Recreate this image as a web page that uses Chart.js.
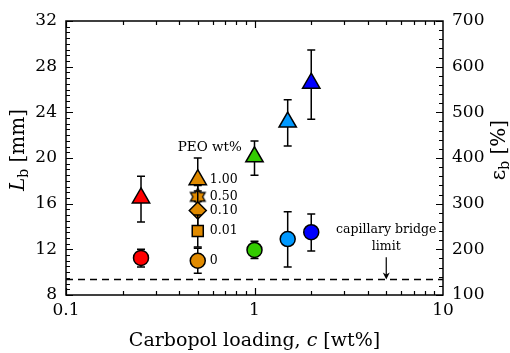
<!DOCTYPE html>
<html>
<head>
<meta charset="utf-8">
<script src="https://cdn.jsdelivr.net/npm/chart.js@4"></script>
<style>
    html, body { margin: 0; padding: 0; background: #fff; }
    #wrap { width: 510px; height: 353px; }
</style>
</head>
<body>
<div id="wrap"><canvas id="chart"></canvas></div>
<script>
// --- data ---
const carbopol = [0.25, 0.5, 1, 1.5, 2];              // wt%
const pointColors = ["#ff0000", "#e08a00", "#33cc00", "#0099ff", "#0000ff"];

// circles: no PEO
const lbCircle = [11.25, 11.0, 11.95, 12.9, 13.5];
const lbCircleLow = [10.45, 9.9, 11.2, 10.45, 11.85];
const lbCircleHigh = [12.0, 12.1, 12.7, 15.3, 15.1];

// triangles: 1.00 wt% PEO
const lbTri = [16.5, 18.1, 20.1, 23.15, 26.55];
const lbTriLow = [14.4, 16.2, 18.5, 21.05, 23.4];
const lbTriHigh = [18.4, 20.0, 21.5, 25.1, 29.45];

// PEO series at c = 0.5 wt%
const peoCarbopol = 0.5;
const peoLabels = ["0", "0.01", "0.10", "0.50", "1.00"];
const peoLb = [11.0, 13.6, 15.4, 16.6, 18.1];
const peoLow = [9.9, 12.2, 13.7, 15.6, 16.2];
const peoHigh = [12.1, 15.0, 17.1, 17.6, 20.0];
const peoHeaderLb = 20.9;

// capillary bridge limit
const bridgeLimit = 9.35;
const bridgeArrowC = 5;

// axes
const xMajorTicks = [0.1, 1, 10];
const yMin = 8, yMax = 32, yStep = 4;
const y2Min = 100, y2Max = 700, y2Step = 100;

const FONT = "'DejaVu Serif', serif";

// hexagram marker as a small canvas
function makeHexagram(R, fill) {
    const size = Math.ceil(R * 2 + 4);
    const cv = document.createElement("canvas");
    cv.width = cv.height = size;
    const g = cv.getContext("2d");
    const c = size / 2;
    g.beginPath();
    for (let i = 0; i < 12; i++) {
        const r = i % 2 === 0 ? R : R / Math.sqrt(3);
        const a = -Math.PI / 2 + i * Math.PI / 6;
        const px = c + r * Math.cos(a), py = c + r * Math.sin(a);
        if (i === 0) g.moveTo(px, py); else g.lineTo(px, py);
    }
    g.closePath();
    g.fillStyle = fill;
    g.fill();
    g.lineWidth = 1.3;
    g.strokeStyle = "#000";
    g.stroke();
    return cv;
}

// draw a run of text pieces (font / baseline shift) centered at 0,0
function drawRuns(ctx, runs) {
    let total = 0;
    runs.forEach(r => { ctx.font = r.font; r.w = ctx.measureText(r.text).width; total += r.w; });
    let x = -total / 2;
    runs.forEach(r => {
        ctx.font = r.font;
        ctx.fillText(r.text, x, r.dy || 0);
        x += r.w;
    });
}

const extras = {
    id: "extras",
    beforeDatasetsDraw(chart) {
        const { ctx, chartArea: a, scales: { y } } = chart;
        const yy = y.getPixelForValue(bridgeLimit);
        ctx.save();
        ctx.strokeStyle = "#000";
        ctx.lineWidth = 1.5;
        ctx.setLineDash([7, 5]);
        ctx.beginPath();
        ctx.moveTo(a.left, yy);
        ctx.lineTo(a.right, yy);
        ctx.stroke();
        ctx.restore();
    },
    beforeDatasetDraw(chart, args) {
        const ds = chart.data.datasets[args.index];
        if (!ds.errLow) return;
        const { ctx, scales: { x, y } } = chart;
        ctx.save();
        ctx.strokeStyle = "#000";
        ctx.lineWidth = 1.5;
        ds.data.forEach((p, i) => {
            const px = x.getPixelForValue(p.x);
            const lo = y.getPixelForValue(ds.errLow[i]);
            const hi = y.getPixelForValue(ds.errHigh[i]);
            ctx.beginPath();
            ctx.moveTo(px, lo); ctx.lineTo(px, hi);
            ctx.moveTo(px - 4, lo); ctx.lineTo(px + 4, lo);
            ctx.moveTo(px - 4, hi); ctx.lineTo(px + 4, hi);
            ctx.stroke();
        });
        ctx.restore();
    },
    afterDraw(chart) {
        const { ctx, chartArea: a, scales: { x, y, y2 } } = chart;
        ctx.save();
        ctx.strokeStyle = "#000";
        ctx.fillStyle = "#000";
        ctx.lineWidth = 1.5;
        ctx.strokeRect(a.left, a.top, a.right - a.left, a.bottom - a.top);

        // inward ticks
        ctx.lineWidth = 1.2;
        ctx.beginPath();
        for (let v = yMin; v <= yMax + 1e-9; v += 0.5) {
            const py = Math.round(y.getPixelForValue(v)) + 0.5;
            const len = (v % yStep === 0) ? 7 : 4;
            ctx.moveTo(a.left, py); ctx.lineTo(a.left + len, py);
        }
        for (let v = y2Min; v <= y2Max + 1e-9; v += 20) {
            const py = Math.round(y2.getPixelForValue(v)) + 0.5;
            const len = (v % y2Step === 0) ? 7 : 4;
            ctx.moveTo(a.right, py); ctx.lineTo(a.right - len, py);
        }
        [0.1, 1].forEach(dec => {
            for (let k = 1; k <= 9; k++) {
                const px = Math.round(x.getPixelForValue(k * dec)) + 0.5;
                const len = k === 1 ? 7 : 4;
                ctx.moveTo(px, a.bottom); ctx.lineTo(px, a.bottom - len);
                ctx.moveTo(px, a.top); ctx.lineTo(px, a.top + len);
            }
        });
        ctx.stroke();

        // axis titles
        ctx.textBaseline = "alphabetic";
        ctx.textAlign = "left";
        ctx.save();
        ctx.translate((a.left + a.right) / 2, 346);
        drawRuns(ctx, [
            { text: "Carbopol loading, ", font: "19px " + FONT },
            { text: "c", font: "italic 19px " + FONT },
            { text: " [wt%]", font: "19px " + FONT }
        ]);
        ctx.restore();

        ctx.save();
        ctx.translate(24, 150);
        ctx.rotate(-Math.PI / 2);
        drawRuns(ctx, [
            { text: "L", font: "italic 20px " + FONT },
            { text: "b", font: "14px " + FONT, dy: 4 },
            { text: " [mm]", font: "20px " + FONT }
        ]);
        ctx.restore();

        ctx.save();
        ctx.translate(505, 150);
        ctx.rotate(-Math.PI / 2);
        drawRuns(ctx, [
            { text: "\u03b5", font: "20px " + FONT },
            { text: "b", font: "14px " + FONT, dy: 4 },
            { text: " [%]", font: "20px " + FONT }
        ]);
        ctx.restore();

        // PEO labels
        const peoX = x.getPixelForValue(peoCarbopol);
        ctx.textBaseline = "middle";
        ctx.font = "12.5px " + FONT;
        peoLabels.forEach((t, i) => {
            ctx.fillText(t, peoX + 12, y.getPixelForValue(peoLb[i]));
        });
        ctx.textAlign = "center";
        ctx.font = "13.5px " + FONT;
        ctx.fillText("PEO wt%", peoX + 12, y.getPixelForValue(peoHeaderLb));

        // capillary bridge annotation
        const ax = x.getPixelForValue(bridgeArrowC);
        ctx.font = "12.5px " + FONT;
        ctx.fillText("capillary bridge", ax, y.getPixelForValue(13.7));
        ctx.fillText("limit", ax, y.getPixelForValue(12.2));
        const yTop = y.getPixelForValue(11.3), yTip = y.getPixelForValue(bridgeLimit);
        ctx.lineWidth = 1.2;
        ctx.beginPath();
        ctx.moveTo(ax, yTop); ctx.lineTo(ax, yTip - 3);
        ctx.stroke();
        ctx.beginPath();
        ctx.moveTo(ax, yTip);
        ctx.lineTo(ax - 3.5, yTip - 7);
        ctx.lineTo(ax, yTip - 5);
        ctx.lineTo(ax + 3.5, yTip - 7);
        ctx.closePath();
        ctx.fill();
        ctx.restore();
    }
};

const pts = (xs, ys) => xs.map((c, i) => ({ x: c, y: ys[i] }));
const orange = pointColors[1];

new Chart(document.getElementById("chart"), {
    type: "scatter",
    data: {
        datasets: [
            {
                label: "no PEO",
                data: pts(carbopol, lbCircle),
                errLow: lbCircleLow, errHigh: lbCircleHigh,
                pointStyle: "circle", pointRadius: 7.5,
                backgroundColor: pointColors, borderColor: "#000", borderWidth: 1.5
            },
            {
                label: "0.01",
                data: [{ x: peoCarbopol, y: peoLb[1] }],
                errLow: [peoLow[1]], errHigh: [peoHigh[1]],
                pointStyle: "rect", pointRadius: 7.8,
                backgroundColor: orange, borderColor: "#000", borderWidth: 1.5
            },
            {
                label: "0.10",
                data: [{ x: peoCarbopol, y: peoLb[2] }],
                errLow: [peoLow[2]], errHigh: [peoHigh[2]],
                pointStyle: "rectRot", pointRadius: 8.5,
                backgroundColor: orange, borderColor: "#000", borderWidth: 1.5
            },
            {
                label: "0.50",
                data: [{ x: peoCarbopol, y: peoLb[3] }],
                errLow: [peoLow[3]], errHigh: [peoHigh[3]],
                pointStyle: makeHexagram(8.5, orange), pointRadius: 8.5
            },
            {
                label: "1.00",
                data: pts(carbopol, lbTri),
                errLow: lbTriLow, errHigh: lbTriHigh,
                pointStyle: "triangle", pointRadius: 10,
                backgroundColor: pointColors, borderColor: "#000", borderWidth: 1.5
            }
        ]
    },
    options: {
        responsive: true,
        maintainAspectRatio: false,
        animation: false,
        layout: { padding: { top: 21, left: 0, right: 0, bottom: 0 } },
        plugins: { legend: { display: false }, tooltip: { enabled: false } },
        scales: {
            x: {
                type: "logarithmic",
                min: 0.1, max: 10,
                afterBuildTicks: s => { s.ticks = xMajorTicks.map(v => ({ value: v })); },
                afterFit: s => { s.height = 58; },
                grid: { display: false, drawTicks: false },
                border: { display: false },
                ticks: {
                    autoSkip: false, maxRotation: 0, padding: 5,
                    color: "#000", font: { family: FONT, size: 17 },
                    callback: v => String(v)
                }
            },
            y: {
                position: "left",
                min: yMin, max: yMax,
                afterFit: s => { s.width = 66; },
                grid: { display: false, drawTicks: false },
                border: { display: false },
                ticks: { stepSize: yStep, padding: 9, color: "#000", font: { family: FONT, size: 17 } }
            },
            y2: {
                position: "right",
                min: y2Min, max: y2Max,
                afterFit: s => { s.width = 67; },
                grid: { display: false, drawTicks: false },
                border: { display: false },
                ticks: { stepSize: y2Step, padding: 9, color: "#000", font: { family: FONT, size: 17 } }
            }
        }
    },
    plugins: [extras]
});
</script>
</body>
</html>
